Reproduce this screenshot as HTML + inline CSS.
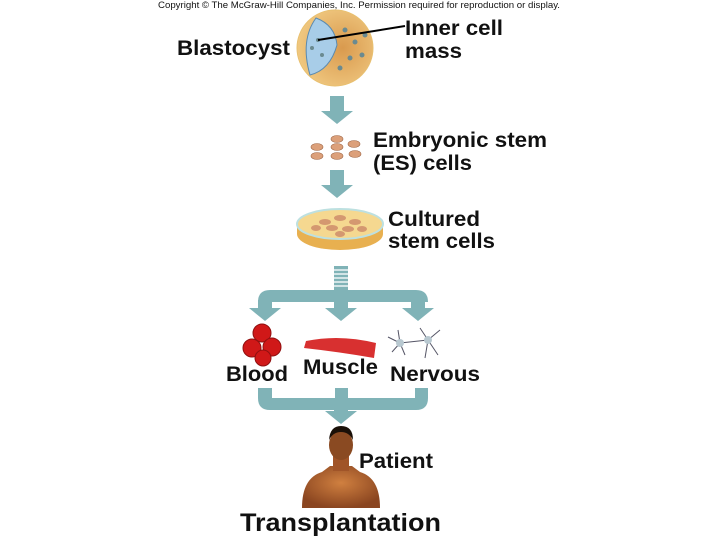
<!DOCTYPE html>
<html><head><style>
body{margin:0;background:#fff}
svg{display:block}
text{font-family:"Liberation Sans",sans-serif;font-weight:bold;fill:#111}
</style></head><body>
<svg width="720" height="540" viewBox="0 0 720 540">
<defs>
<radialGradient id="bl" cx="0.6" cy="0.5" r="0.6"><stop offset="0" stop-color="#d99a4e"/><stop offset="1" stop-color="#f0c880"/></radialGradient>
<radialGradient id="sk" cx="0.5" cy="0.4" r="0.6"><stop offset="0" stop-color="#d08040"/><stop offset="1" stop-color="#8a4520"/></radialGradient>
</defs>
<text x="158" y="8" font-size="9" textLength="402" lengthAdjust="spacingAndGlyphs" style="font-weight:normal">Copyright © The McGraw-Hill Companies, Inc. Permission required for reproduction or display.</text>
<!-- blastocyst -->
<circle cx="335" cy="48" r="38" fill="url(#bl)" stroke="#e8c070"/>
<path d="M316 18 Q300 40 310 75 Q330 70 337 45 Q335 25 316 18Z" fill="#a8cde8" stroke="#5a8ab0"/>
<g fill="#6a8a90">
<circle cx="345" cy="30" r="2.5"/><circle cx="355" cy="42" r="2.5"/><circle cx="350" cy="58" r="2.5"/><circle cx="362" cy="55" r="2.5"/><circle cx="340" cy="68" r="2.5"/><circle cx="365" cy="35" r="2.5"/><circle cx="318" cy="40" r="2"/><circle cx="322" cy="55" r="2"/><circle cx="312" cy="48" r="2"/></g>
<line x1="318" y1="40" x2="405" y2="26" stroke="#000" stroke-width="2"/>
<text x="177" y="55" font-size="21" textLength="113" lengthAdjust="spacingAndGlyphs">Blastocyst</text>
<text x="405" y="35" font-size="21" textLength="98" lengthAdjust="spacingAndGlyphs">Inner cell</text>
<text x="405" y="58" font-size="21" textLength="57" lengthAdjust="spacingAndGlyphs">mass</text>
<!-- arrows -->
<g fill="#80b3b7">
<path d="M330 96h14v15h9l-16 13l-16-13h9z"/>
<path d="M330 170h14v15h9l-16 13l-16-13h9z"/>
<rect x="334" y="266" width="14" height="24" />
<path d="M258 302 Q258 290 270 290 H416 Q428 290 428 302 Z"/>
<path d="M258 300h14v8h9l-16 13l-16-13h9z"/>
<path d="M334 300h14v8h9l-16 13l-16-13h9z"/>
<path d="M411 300h14v8h9l-16 13l-16-13h9z"/>
<path d="M258 388h14v10h63v-10h13v10h67v-10h13v0 V398 Q428 410 416 410 H348 v1h9l-16 13l-16-13h9v-1 H270 Q258 410 258 398Z"/>
</g>
<g stroke="#fff" stroke-width="1.3"><line x1="334" y1="270" x2="348" y2="270"/><line x1="334" y1="274" x2="348" y2="274"/><line x1="334" y1="278" x2="348" y2="278"/><line x1="334" y1="282" x2="348" y2="282"/><line x1="334" y1="286" x2="348" y2="286"/></g>
<!-- ES cells -->
<g fill="#dca07a" stroke="#a06848" stroke-width="0.6">
<ellipse cx="337" cy="139" rx="6" ry="3.5"/><ellipse cx="317" cy="147" rx="6" ry="3.5"/><ellipse cx="337" cy="147" rx="6" ry="3.5"/><ellipse cx="354" cy="144" rx="6" ry="3.5"/><ellipse cx="317" cy="156" rx="6" ry="3.5"/><ellipse cx="337" cy="156" rx="6" ry="3.5"/><ellipse cx="355" cy="154" rx="6" ry="3.5"/></g>
<text x="373" y="147" font-size="21" textLength="174" lengthAdjust="spacingAndGlyphs">Embryonic stem</text>
<text x="373" y="170" font-size="21" textLength="99" lengthAdjust="spacingAndGlyphs">(ES) cells</text>
<!-- dish -->
<ellipse cx="340" cy="234" rx="43" ry="16" fill="#e8b050"/>
<rect x="297" y="224" width="86" height="10" fill="#e8b050"/>
<ellipse cx="340" cy="224" rx="43" ry="15" fill="#f5d890" stroke="#bde0e0" stroke-width="2"/>
<g fill="#d49870"><ellipse cx="325" cy="222" rx="6" ry="3"/><ellipse cx="340" cy="218" rx="6" ry="3"/><ellipse cx="355" cy="222" rx="6" ry="3"/><ellipse cx="332" cy="228" rx="6" ry="3"/><ellipse cx="348" cy="229" rx="6" ry="3"/><ellipse cx="316" cy="228" rx="5" ry="3"/><ellipse cx="362" cy="229" rx="5" ry="3"/><ellipse cx="340" cy="234" rx="5" ry="3"/></g>
<text x="388" y="226" font-size="21" textLength="92" lengthAdjust="spacingAndGlyphs">Cultured</text>
<text x="388" y="248" font-size="21" textLength="107" lengthAdjust="spacingAndGlyphs">stem cells</text>
<!-- blood -->
<g fill="#d01818" stroke="#901010"><circle cx="262" cy="333" r="9"/><circle cx="272" cy="347" r="9"/><circle cx="252" cy="348" r="9"/><circle cx="263" cy="358" r="8"/></g>
<!-- muscle -->
<path d="M306 341 Q340 334 376 343 L374 358 Q340 352 304 348Z" fill="#d83030"/>
<!-- neurons -->
<g stroke="#556" stroke-width="1" fill="none">
<path d="M400 343 L388 337 M400 343 L392 352 M400 343 L405 355 M400 343 L398 330 M400 343 L428 340 M428 340 L440 330 M428 340 L438 355 M428 340 L425 358 M428 340 L420 328"/></g>
<circle cx="400" cy="343" r="4" fill="#b8c8d0"/><circle cx="428" cy="340" r="4" fill="#b8c8d0"/>
<text x="226" y="381" font-size="21" textLength="62" lengthAdjust="spacingAndGlyphs">Blood</text>
<text x="303" y="374" font-size="21" textLength="75" lengthAdjust="spacingAndGlyphs">Muscle</text>
<text x="390" y="381" font-size="21" textLength="90" lengthAdjust="spacingAndGlyphs">Nervous</text>
<!-- patient -->
<path d="M302 508 Q302 478 322 472 L330 466 H352 L360 472 Q380 478 380 508 Z" fill="url(#sk)"/>
<rect x="333" y="455" width="16" height="16" fill="#a05428"/>
<ellipse cx="341" cy="445" rx="12" ry="15" fill="#8a4a22"/>
<path d="M329 440 Q330 426 341 426 Q353 426 353 440 Q349 432 341 432 Q333 432 329 440Z" fill="#1a1008"/>
<text x="359" y="468" font-size="21" textLength="74" lengthAdjust="spacingAndGlyphs">Patient</text>
<text x="240" y="531" font-size="25" textLength="201" lengthAdjust="spacingAndGlyphs">Transplantation</text>
</svg>
</body></html>
